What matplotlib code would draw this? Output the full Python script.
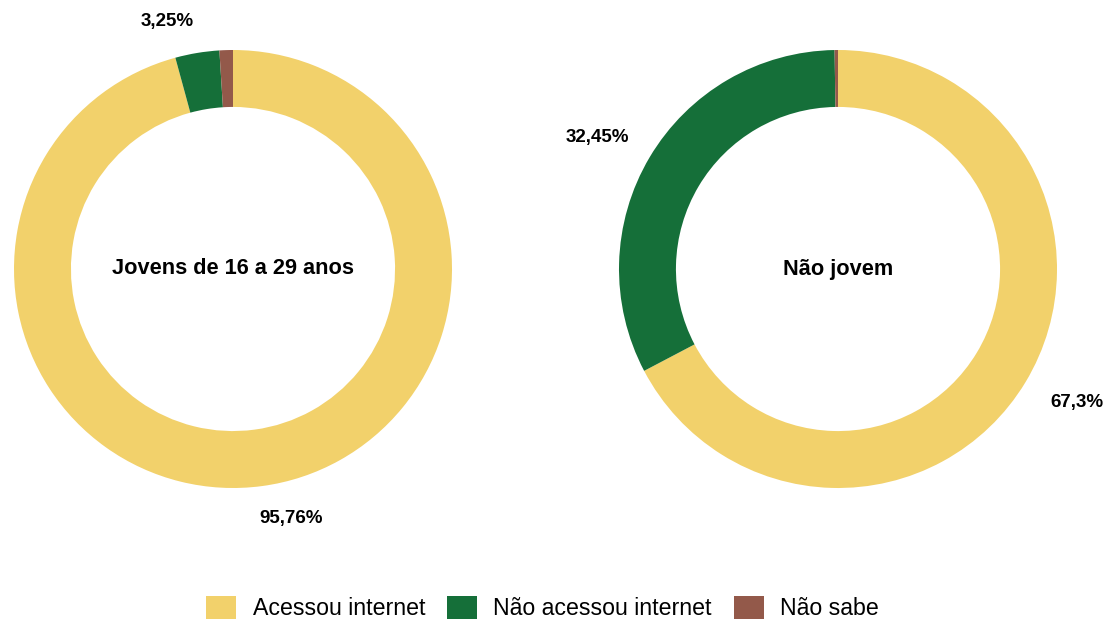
import numpy as np
import matplotlib
matplotlib.use('Agg')
import matplotlib.pyplot as plt
from matplotlib.patches import Patch

plt.rcParams['font.family'] = ['Liberation Sans', 'DejaVu Sans']

categorias = ['Acessou internet', 'Não acessou internet', 'Não sabe']
cores = ['#F2D16B', '#156F39', '#93594A']

jovens = [95.76, 3.25, 0.99]
nao_jovens = [67.3, 32.45, 0.25]
rotulos_jovens = ['95,76%', '3,25%', '']
rotulos_nao_jovens = ['67,3%', '32,45%', '']
titulos = ['Jovens de 16 a 29 anos', 'Não jovem']

fig = plt.figure(figsize=(11.03, 6.19), dpi=100)
ax = fig.add_axes([0, 0, 1, 1])

# pie centers / radius in pixel units
centros = [(233, 350), (838, 350)]
raio = 219
dist_rot = [1.17, 1.25]
desvio = [5.5, 2.0]   # small angular shift of the labels (deg)

for vals, rots, tit, c, d, off in zip([jovens, nao_jovens],
                                      [rotulos_jovens, rotulos_nao_jovens],
                                      titulos, centros, dist_rot, desvio):
    ax.pie(vals, colors=cores, startangle=90, counterclock=False,
           radius=raio, center=c,
           wedgeprops=dict(width=raio * 0.26, linewidth=0))
    cum = np.cumsum([0] + vals)
    for i, r in enumerate(rots):
        if not r:
            continue
        ang = np.deg2rad(90 - (cum[i] + vals[i] / 2) * 3.6 + off)
        ax.text(c[0] + d * raio * np.cos(ang), c[1] + d * raio * np.sin(ang), r,
                ha='center', va='center', fontsize=13.5, fontweight='bold')
    ax.text(c[0], c[1], tit, ha='center', va='center',
            fontsize=15.7, fontweight='bold')

ax.set_xlim(0, 1103)
ax.set_ylim(0, 619)
ax.set_aspect('equal')
ax.axis('off')

handles = [Patch(facecolor=cor, edgecolor='none') for cor in cores]
fig.legend(handles, categorias, loc='center', bbox_to_anchor=(0.492, 0.018),
           ncol=3, frameon=False, fontsize=16.7, handlelength=1.3,
           handleheight=1.2, handletextpad=0.7, columnspacing=0.95,
           borderpad=0)

plt.savefig('out.png', dpi=100)
